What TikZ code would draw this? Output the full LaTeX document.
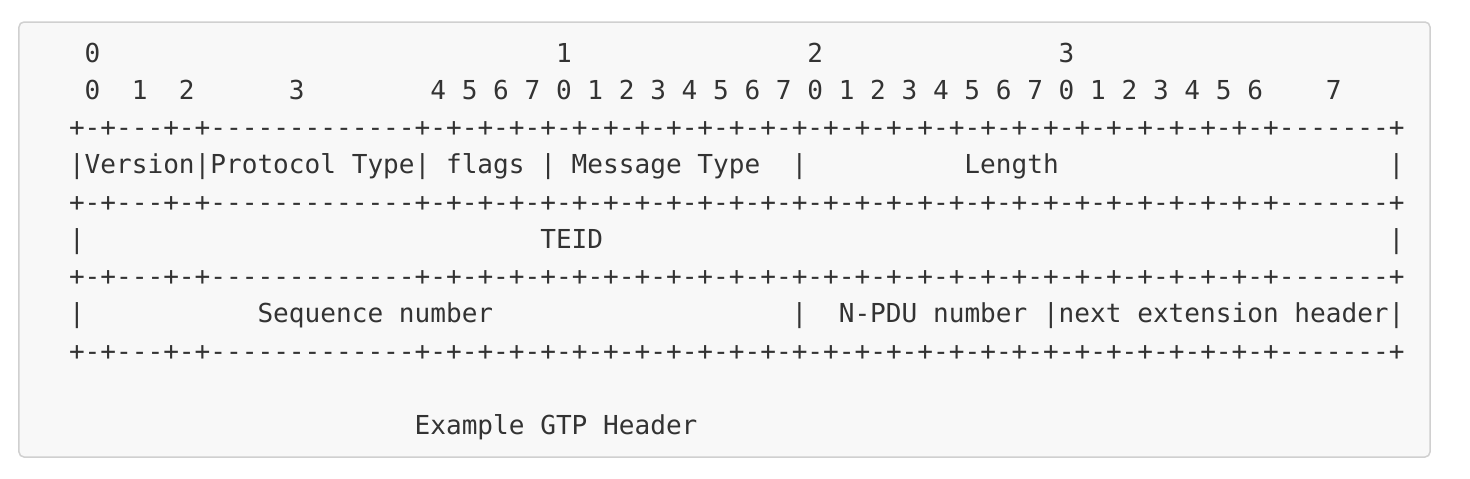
\documentclass[tikz,border=0pt]{standalone}
\usepackage{fontspec}
\setmonofont{DejaVu Sans Mono}
\usetikzlibrary{positioning}

\definecolor{codebg}{HTML}{F8F8F8}
\definecolor{codeline}{HTML}{D0D0D0}
\definecolor{codetext}{HTML}{333333}

\newcommand{\hdrrule}{+-+---+-+-------------+%
-+-+-+-+-+-+-+-+-+%
-+-+-+-+-+-+-+-+-+%
-+-+-+-+-+-+-+-+-+%
-------+}

\begin{document}
\begin{tikzpicture}[x=7.855pt,y=-18.625pt,
  cell/.style={anchor=base west,inner sep=0pt,outer sep=0pt,
    font=\ttfamily\fontsize{13.05}{15}\selectfont,text=codetext}]
\useasboundingbox (-34.5pt,31pt) rectangle (700.5pt,-208pt);
\draw[codeline,fill=codebg,line width=0.75pt,rounded corners=2.5pt]
  (-25pt,20pt) rectangle (680.5pt,-197.5pt);

% byte and bit numbers
\foreach \byte/\col in {0/1,1/31,2/47,3/63}
  \node[cell] (byte\byte) at (\col,0) {\byte};
\foreach \bit/\col in {0/1,1/4,2/7,3/14}
  \node[cell] (first\bit) at (\col,1) {\bit};
\foreach \bit [count=\k from 0] in {4,5,6,7,0,1,2,3,4,5,6,7,0,1,2,3,4,5,6,7,0,1,2,3,4,5,6}
  \node[cell] (bit\k) at ({23+2*\k},1) {\bit};
\node[cell] (lastbit) at (80,1) {7};

% rules
\foreach \r in {2,4,6,8}
  \node[cell] (rule\r) at (0,\r) {\hdrrule};

% separators
\foreach \r/\col in {3/0,3/8,3/22,3/30,3/46,3/84,5/0,5/84,7/0,7/46,7/62,7/84}
  \node[cell] (bar\r x\col) at (\col,\r) {|};

% fields
\node[cell] (version) at (1,3) {Version};
\node[cell] (ptype) at (9,3) {Protocol Type};
\node[cell] (flags) at (24,3) {flags};
\node[cell] (msgtype) at (32,3) {Message Type};
\node[cell] (length) at (57,3) {Length};
\node[cell] (teid) at (30,5) {TEID};
\node[cell] (seqnum) at (12,7) {Sequence number};
\node[cell] (npdu) at (49,7) {N-PDU number};
\node[cell] (nexthdr) at (63,7) {next extension header};

\node[cell] (caption) at (22,10) {Example GTP Header};
\end{tikzpicture}
\end{document}
